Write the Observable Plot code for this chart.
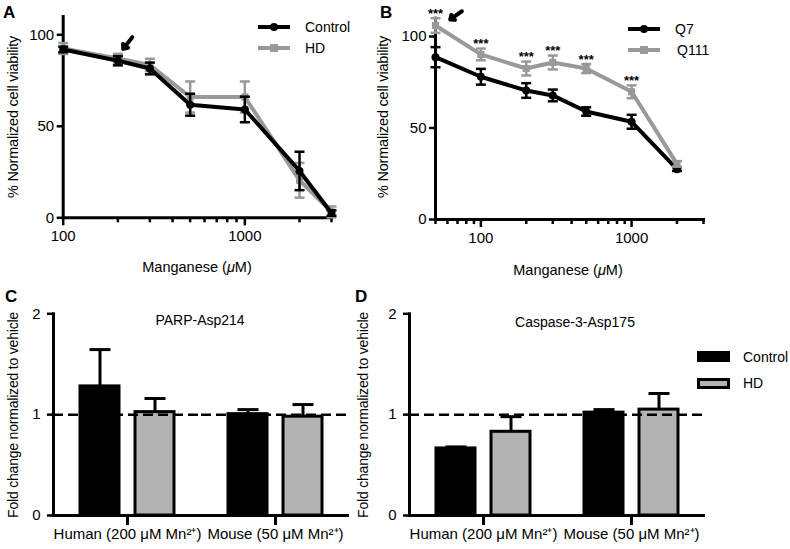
<!DOCTYPE html>
<html><head><meta charset="utf-8">
<script src="https://cdn.jsdelivr.net/npm/d3@7"></script>
<script src="https://cdn.jsdelivr.net/npm/@observablehq/plot@0.6"></script>
<style>
html,body{margin:0;padding:0;background:#fff;}
#root{position:relative;width:790px;height:549px;overflow:hidden;font-family:"Liberation Sans",Arial,Helvetica,sans-serif;color:#000;background:#fff;}
.lbl{position:absolute;white-space:nowrap;transform:translate(-50%,-50%);font-size:14.5px;line-height:1;}
.ylab{position:absolute;white-space:nowrap;transform:translate(-50%,-50%) rotate(-90deg);font-size:14px;line-height:1;letter-spacing:-0.2px;}
.letter{position:absolute;font-weight:bold;font-size:17px;line-height:1;}
.leg{position:absolute;white-space:nowrap;transform:translateY(-50%);font-size:14px;line-height:1;}
svg.panel{position:absolute;}
</style></head><body><div id="root"></div>
<script>
// ---------- data ----------
// Panel A (human cells)
const doseA = [100, 200, 300, 500, 1000, 2000, 3000];
const controlA = [92, 85.8, 81.6, 61.8, 59.2, 25.6, 2.6];
const controlAErr = [1.5, 2.5, 3.2, 6, 7, 10.5, 1.5];
const hdA = [92.5, 87, 83.5, 66, 66, 20.5, 3.2];
const hdAErr = [3, 2.6, 3.4, 8.5, 8.5, 9.5, 3];
const majorTicksA = [100, 1000];
const minorTicksA = [200, 300, 400, 500, 600, 700, 800, 900, 2000, 3000];
const arrowA = {x1: 240, y1: 98.7, x2: 214, y2: 92.3};

// Panel B (mouse cells)
const doseB = [50, 100, 200, 300, 500, 1000, 2000];
const q7B = [88.7, 78, 70.5, 67.8, 59, 53.4, 27.5];
const q7BErr = [5.5, 4.3, 4, 3.2, 2.3, 3.8, 1];
const q111B = [106, 90.2, 82.5, 85.8, 82.5, 69.8, 30.4];
const q111BErr = [4, 3.2, 3.8, 3.8, 2.5, 3.5, 1.5];
const sigB = ["***", "***", "***", "***", "***", "***", ""];
const majorTicksB = [100, 1000];
const minorTicksB = [50, 60, 70, 80, 90, 200, 300, 400, 500, 600, 700, 800, 900, 2000, 3000];
const arrowB = {x1: 74.8, y1: 113.8, x2: 62.6, y2: 109.3};

const viabilityTicks = [0, 50, 100];

// Panels C and D (bars)
const groups = ["Human (200 μM Mn²⁺)", "Mouse (50 μM Mn²⁺)"];
const barSeries = ["Control", "HD"];
const parpControl = [1.28, 1.005];
const parpControlErr = [0.365, 0.045];
const parpHD = [1.025, 0.98];
const parpHDErr = [0.135, 0.12];
const caspControl = [0.665, 1.02];
const caspControlErr = [0.015, 0.03];
const caspHD = [0.83, 1.05];
const caspHDErr = [0.15, 0.16];
const foldTicks = [0, 1, 2];
const vehicleLevel = [1];

// ---------- helpers ----------
const black = "#000";
const gray = "#999";
const barGray = "#b3b3b3";
const cap = {draw(ctx, size) { const r = Math.sqrt(size / Math.PI); ctx.moveTo(-r, 0); ctx.lineTo(r, 0); }};
const root = document.getElementById("root");
const baseStyle = {fontFamily: '"Liberation Sans", Arial, sans-serif', fontSize: "15px", background: "transparent", color: "#000", overflow: "visible"};

function rowsOf(doses, vals, errs, sig) {
  return doses.map((dose, i) => ({dose, v: vals[i], e: errs[i], sig: sig ? sig[i] : ""}));
}
function seriesMarks(rows, color, symbol) {
  return [
    Plot.ruleX(rows, {x: "dose", y1: d => d.v - d.e, y2: d => d.v + d.e, stroke: color, strokeWidth: 2.5}),
    Plot.dot(rows, {x: "dose", y: d => d.v + d.e, symbol: cap, r: 5, stroke: color, strokeWidth: 2.5, fill: "none"}),
    Plot.dot(rows, {x: "dose", y: d => d.v - d.e, symbol: cap, r: 5, stroke: color, strokeWidth: 2.5, fill: "none"}),
    Plot.line(rows, {x: "dose", y: "v", stroke: color, strokeWidth: 4}),
    Plot.dot(rows, {x: "dose", y: "v", symbol, r: 4, fill: color, stroke: null})
  ];
}
function place(el, left, top) {
  el.classList.add("panel");
  el.style.position = "absolute";
  el.style.left = left + "px";
  el.style.top = top + "px";
  root.appendChild(el);
}
function html(cls, text, x, y, extra) {
  const d = document.createElement("div");
  d.className = cls;
  d.innerHTML = text;
  d.style.left = x + "px";
  d.style.top = y + "px";
  if (extra) Object.assign(d.style, extra);
  root.appendChild(d);
}

// ---------- Panel A ----------
const ctrlRowsA = rowsOf(doseA, controlA, controlAErr);
const hdRowsA = rowsOf(doseA, hdA, hdAErr);
const plotA = Plot.plot({
  width: 395, height: 280,
  marginLeft: 62.7, marginRight: 64, marginTop: 16, marginBottom: 62.7,
  x: {type: "log", domain: [100, 3000]},
  y: {domain: [0, 110]},
  style: baseStyle,
  marks: [
    Plot.axisY({ticks: viabilityTicks, tickSize: 6, tickPadding: 3, strokeWidth: 2.5, label: null, tickFormat: d3.format("d")}),
    Plot.axisX({ticks: majorTicksA, tickSize: 8, tickPadding: 5, strokeWidth: 2.5, label: null, tickFormat: d3.format("d")}),
    Plot.axisX({ticks: minorTicksA, tickSize: 5, strokeWidth: 2.5, label: null, tickFormat: () => ""}),
    Plot.frame({anchor: "left", strokeWidth: 3}),
    Plot.frame({anchor: "bottom", strokeWidth: 3}),
    ...seriesMarks(hdRowsA, gray, "square"),
    ...seriesMarks(ctrlRowsA, black, "circle"),
    Plot.arrow([arrowA], {x1: "x1", y1: "y1", x2: "x2", y2: "y2", stroke: black, strokeWidth: 4, headLength: 8, headAngle: 80})
  ]
});
place(plotA, 0, 0);

// ---------- Panel B ----------
const q7Rows = rowsOf(doseB, q7B, q7BErr);
const q111Rows = rowsOf(doseB, q111B, q111BErr, sigB);
const plotB = Plot.plot({
  width: 395, height: 280,
  marginLeft: 40, marginRight: 87, marginTop: 17.7, marginBottom: 61,
  x: {type: "log", domain: [50, 3000]},
  y: {domain: [0, 110]},
  style: baseStyle,
  marks: [
    Plot.axisY({ticks: viabilityTicks, tickSize: 6, tickPadding: 3, strokeWidth: 2.5, label: null, tickFormat: d3.format("d")}),
    Plot.axisX({ticks: majorTicksB, tickSize: 8, tickPadding: 5, strokeWidth: 2.5, label: null, tickFormat: d3.format("d")}),
    Plot.axisX({ticks: minorTicksB, tickSize: 5, strokeWidth: 2.5, label: null, tickFormat: () => ""}),
    Plot.frame({anchor: "left", strokeWidth: 3}),
    Plot.frame({anchor: "bottom", strokeWidth: 3}),
    ...seriesMarks(q7Rows, black, "circle"),
    ...seriesMarks(q111Rows, gray, "square"),
    Plot.text(q111Rows.filter(d => d.sig), {x: "dose", y: d => d.v + d.e, text: "sig", dy: -4.5, fontSize: 13, fontWeight: "bold", lineAnchor: "middle"}),
    Plot.arrow([arrowB], {x1: "x1", y1: "y1", x2: "x2", y2: "y2", stroke: black, strokeWidth: 4, headLength: 8, headAngle: 80})
  ]
});
place(plotB, 395, 0);

// ---------- Panels C & D ----------
function barRows(ctrl, ctrlErr, hd, hdErr) {
  const out = [];
  groups.forEach((g, i) => {
    out.push({group: g, series: barSeries[0], value: ctrl[i], err: ctrlErr[i]});
    out.push({group: g, series: barSeries[1], value: hd[i], err: hdErr[i]});
  });
  return out;
}
function barPlot(rows, width, marginLeft, marginRight) {
  return Plot.plot({
    width, height: 269,
    marginLeft, marginRight, marginTop: 33.3, marginBottom: 34,
    fx: {domain: groups, padding: 0, label: null},
    x: {domain: barSeries, paddingInner: 0.3, paddingOuter: 0.48, axis: null},
    y: {domain: [0, 2]},
    color: {domain: barSeries, range: [black, barGray]},
    style: baseStyle,
    marks: [
      Plot.ruleX(rows, {fx: "group", x: "series", y1: "value", y2: d => d.value + d.err, stroke: black, strokeWidth: 3}),
      Plot.dot(rows, {fx: "group", x: "series", y: d => d.value + d.err, symbol: cap, r: 10.5, stroke: black, strokeWidth: 3, fill: "none"}),
      Plot.barY(rows, {fx: "group", x: "series", y: "value", fill: "series", stroke: black, strokeWidth: 3}),
      Plot.ruleY(vehicleLevel, {stroke: black, strokeWidth: 2.5, strokeDasharray: "10,5"}),
      Plot.ruleY([0], {stroke: black, strokeWidth: 3}),
      Plot.frame({anchor: "left", facetAnchor: "left", strokeWidth: 3}),
      Plot.axisY({ticks: foldTicks, tickSize: 6, tickPadding: 7, strokeWidth: 2.5, label: null, tickFormat: d3.format("d")}),
      Plot.axisFx({anchor: "bottom", tickSize: 10, tickPadding: 3, strokeWidth: 3, label: null, fontSize: 15})
    ]
  });
}
place(barPlot(barRows(parpControl, parpControlErr, parpHD, parpHDErr), 350, 53, 1), 0, 280);
place(barPlot(barRows(caspControl, caspControlErr, caspHD, caspHDErr), 440, 59, 85), 350, 280);

// ---------- text & legends ----------
html("letter", "A", 3, 4);
html("letter", "B", 380, 4);
html("letter", "C", 5, 288);
html("letter", "D", 355, 288);

html("ylab", "% Normalized cell viability", 13, 117, {fontSize: "14.5px"});
html("ylab", "% Normalized cell viability", 383, 117, {fontSize: "14.5px"});
html("lbl", "Manganese (<i>μ</i>M)", 197, 267);
html("lbl", "Manganese (<i>μ</i>M)", 568, 270);
html("ylab", "Fold change normalized to vehicle", 13, 415);
html("ylab", "Fold change normalized to vehicle", 363, 415);
html("lbl", "PARP-Asp214", 200, 320, {fontSize: "14px"});
html("lbl", "Caspase-3-Asp175", 575, 322, {fontSize: "14px"});

function lineKey(x, y, color, shape) {
  const s = document.createElementNS("http://www.w3.org/2000/svg", "svg");
  s.setAttribute("width", 40); s.setAttribute("height", 14);
  s.style.position = "absolute"; s.style.left = (x - 2) + "px"; s.style.top = (y - 7) + "px";
  s.innerHTML = `<line x1="2" x2="34" y1="7" y2="7" stroke="${color}" stroke-width="4"/>` +
    (shape === "circle" ? `<circle cx="18" cy="7" r="4" fill="${color}"/>` : `<rect x="14" y="3" width="8" height="8" fill="${color}"/>`);
  root.appendChild(s);
}
lineKey(258, 27, black, "circle");
html("leg", "Control", 305, 27);
lineKey(258, 48, gray, "square");
html("leg", "HD", 305, 48);

lineKey(628, 29, black, "circle");
html("leg", "Q7", 675, 29);
lineKey(628, 50, gray, "square");
html("leg", "Q111", 677, 50);

function boxKey(x, y, fill) {
  const d = document.createElement("div");
  Object.assign(d.style, {position: "absolute", left: x + "px", top: y + "px", width: "33px", height: "11px", boxSizing: "border-box", background: fill, border: "3px solid #000"});
  root.appendChild(d);
}
boxKey(697, 351, black);
html("leg", "Control", 743, 357);
boxKey(697, 378, barGray);
html("leg", "HD", 743, 383);
</script></body></html>
